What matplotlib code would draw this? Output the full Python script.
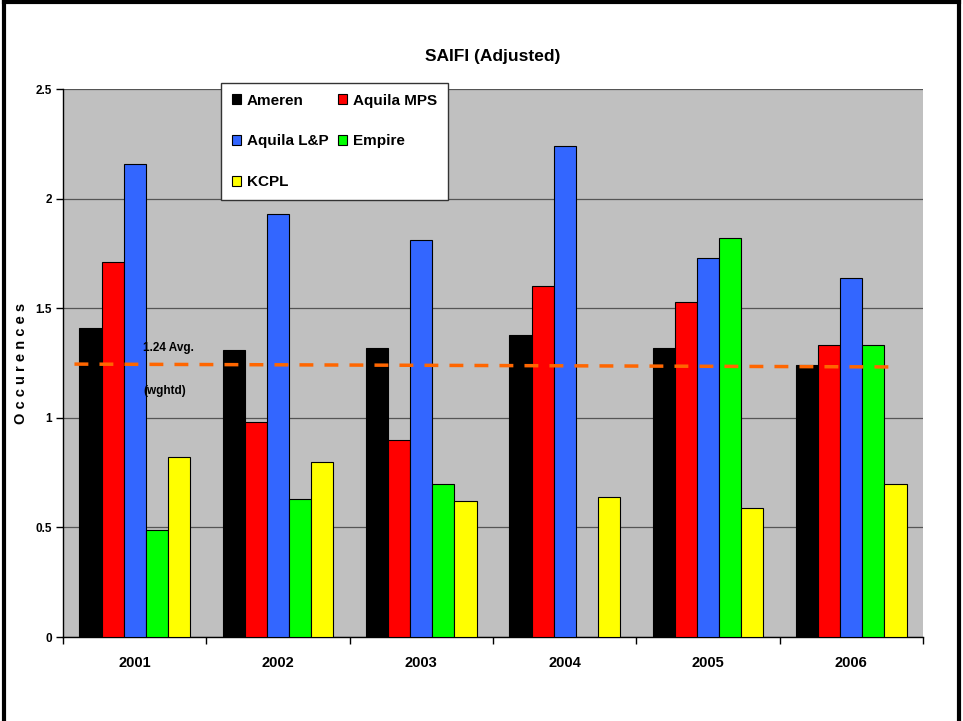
import numpy as np
import matplotlib
matplotlib.use("Agg")
import matplotlib.pyplot as plt
from matplotlib.lines import Line2D

plt.rcParams['font.family'] = ['Liberation Sans', 'DejaVu Sans']
plt.rcParams['font.weight'] = 'bold'

# data
years = ['2001', '2002', '2003', '2004', '2005', '2006']
ameren = [1.41, 1.31, 1.32, 1.38, 1.32, 1.24]
aquila_mps = [1.71, 0.98, 0.90, 1.60, 1.53, 1.33]
aquila_lp = [2.16, 1.93, 1.81, 2.24, 1.73, 1.64]
empire = [0.49, 0.63, 0.70, np.nan, 1.82, 1.33]
kcpl = [0.82, 0.80, 0.62, 0.64, 0.59, 0.70]
avg_line = [1.245, 1.232]

series = [
    ('Ameren', ameren, '#000000'),
    ('Aquila MPS', aquila_mps, '#FF0000'),
    ('Aquila L&P', aquila_lp, '#3366FF'),
    ('Empire', empire, '#00FF00'),
    ('KCPL', kcpl, '#FFFF00'),
]

fig = plt.figure(figsize=(9.63, 7.21), dpi=100)
ax = fig.add_axes([63 / 963, 1 - 637 / 721, 860 / 963, 548 / 721])
ax.set_facecolor('#C0C0C0')

x = np.arange(len(years))
w = 0.154
bars = {}
for i, (name, vals, col) in enumerate(series):
    b = ax.bar(x + (i - 2) * w, vals, w, color=col, edgecolor='#000000',
               linewidth=0.8, zorder=3, label=name)
    bars[name] = b

# weighted average line
ax.plot([-0.42, 5.3], avg_line, color='#FF6600', lw=2.5,
        dashes=(4, 3.2), zorder=5)
ax.text(0.06, 1.305, '1.24 Avg.', fontsize=8.5, fontweight='bold', zorder=6)
ax.text(0.06, 1.11, '(wghtd)', fontsize=8.5, fontweight='bold', zorder=6)

ax.set_xlim(-0.5, 5.5)
ax.set_ylim(0, 2.5)
ax.set_yticks([0, 0.5, 1, 1.5, 2, 2.5])
ax.set_yticklabels(['0', '0.5', '1', '1.5', '2', '2.5'], fontsize=8.5,
                   fontweight='bold')
ax.yaxis.grid(True, color='#555555', lw=0.9, zorder=1)
ax.set_axisbelow(True)

ax.set_xticks(x)
ax.set_xticklabels(years, fontsize=10.5, fontweight='bold')
ax.tick_params(axis='x', which='major', length=0, pad=14)
ax.set_xticks(np.arange(-0.5, 6, 1), minor=True)
ax.tick_params(axis='x', which='minor', length=5, width=1, direction='out')
ax.tick_params(axis='y', length=5, width=1, direction='out', pad=3)

for s in ['top', 'right']:
    ax.spines[s].set_visible(False)
ax.spines['left'].set_linewidth(1)
ax.spines['bottom'].set_linewidth(1)

ax.set_ylabel('O c c u r e n c e s', fontsize=10.5, fontweight='bold')
ax.yaxis.set_label_coords((28 - 63) / 860, 0.5)
fig.text(493 / 963, 1 - 57 / 721, 'SAIFI (Adjusted)', fontsize=12.5,
         fontweight='bold', ha='center', va='center')

order = ['Ameren', 'Aquila L&P', 'KCPL', 'Aquila MPS', 'Empire']
handles = [bars[n] for n in order]
leg = ax.legend(handles, order, ncol=2, loc='upper left',
                bbox_to_anchor=(221 / 963, 1 - 83 / 721),
                bbox_transform=fig.transFigure, borderaxespad=0,
                prop={'weight': 'bold', 'size': 11},
                handlelength=0.6, handleheight=0.6, handletextpad=0.4,
                labelspacing=1.75, columnspacing=0.6, borderpad=0.7,
                fancybox=False, framealpha=1, edgecolor='#333333')
leg.get_frame().set_linewidth(1)
leg.set_zorder(10)

# outer frame
for xs, ys in [([0.004, 0.004], [0, 0.997]), ([0.004, 0.996], [0.997, 0.997]),
               ([0.996, 0.996], [0, 0.997])]:
    fig.add_artist(Line2D(xs, ys, color='black', lw=3, transform=fig.transFigure))

fig.savefig('out.png', dpi=100)
